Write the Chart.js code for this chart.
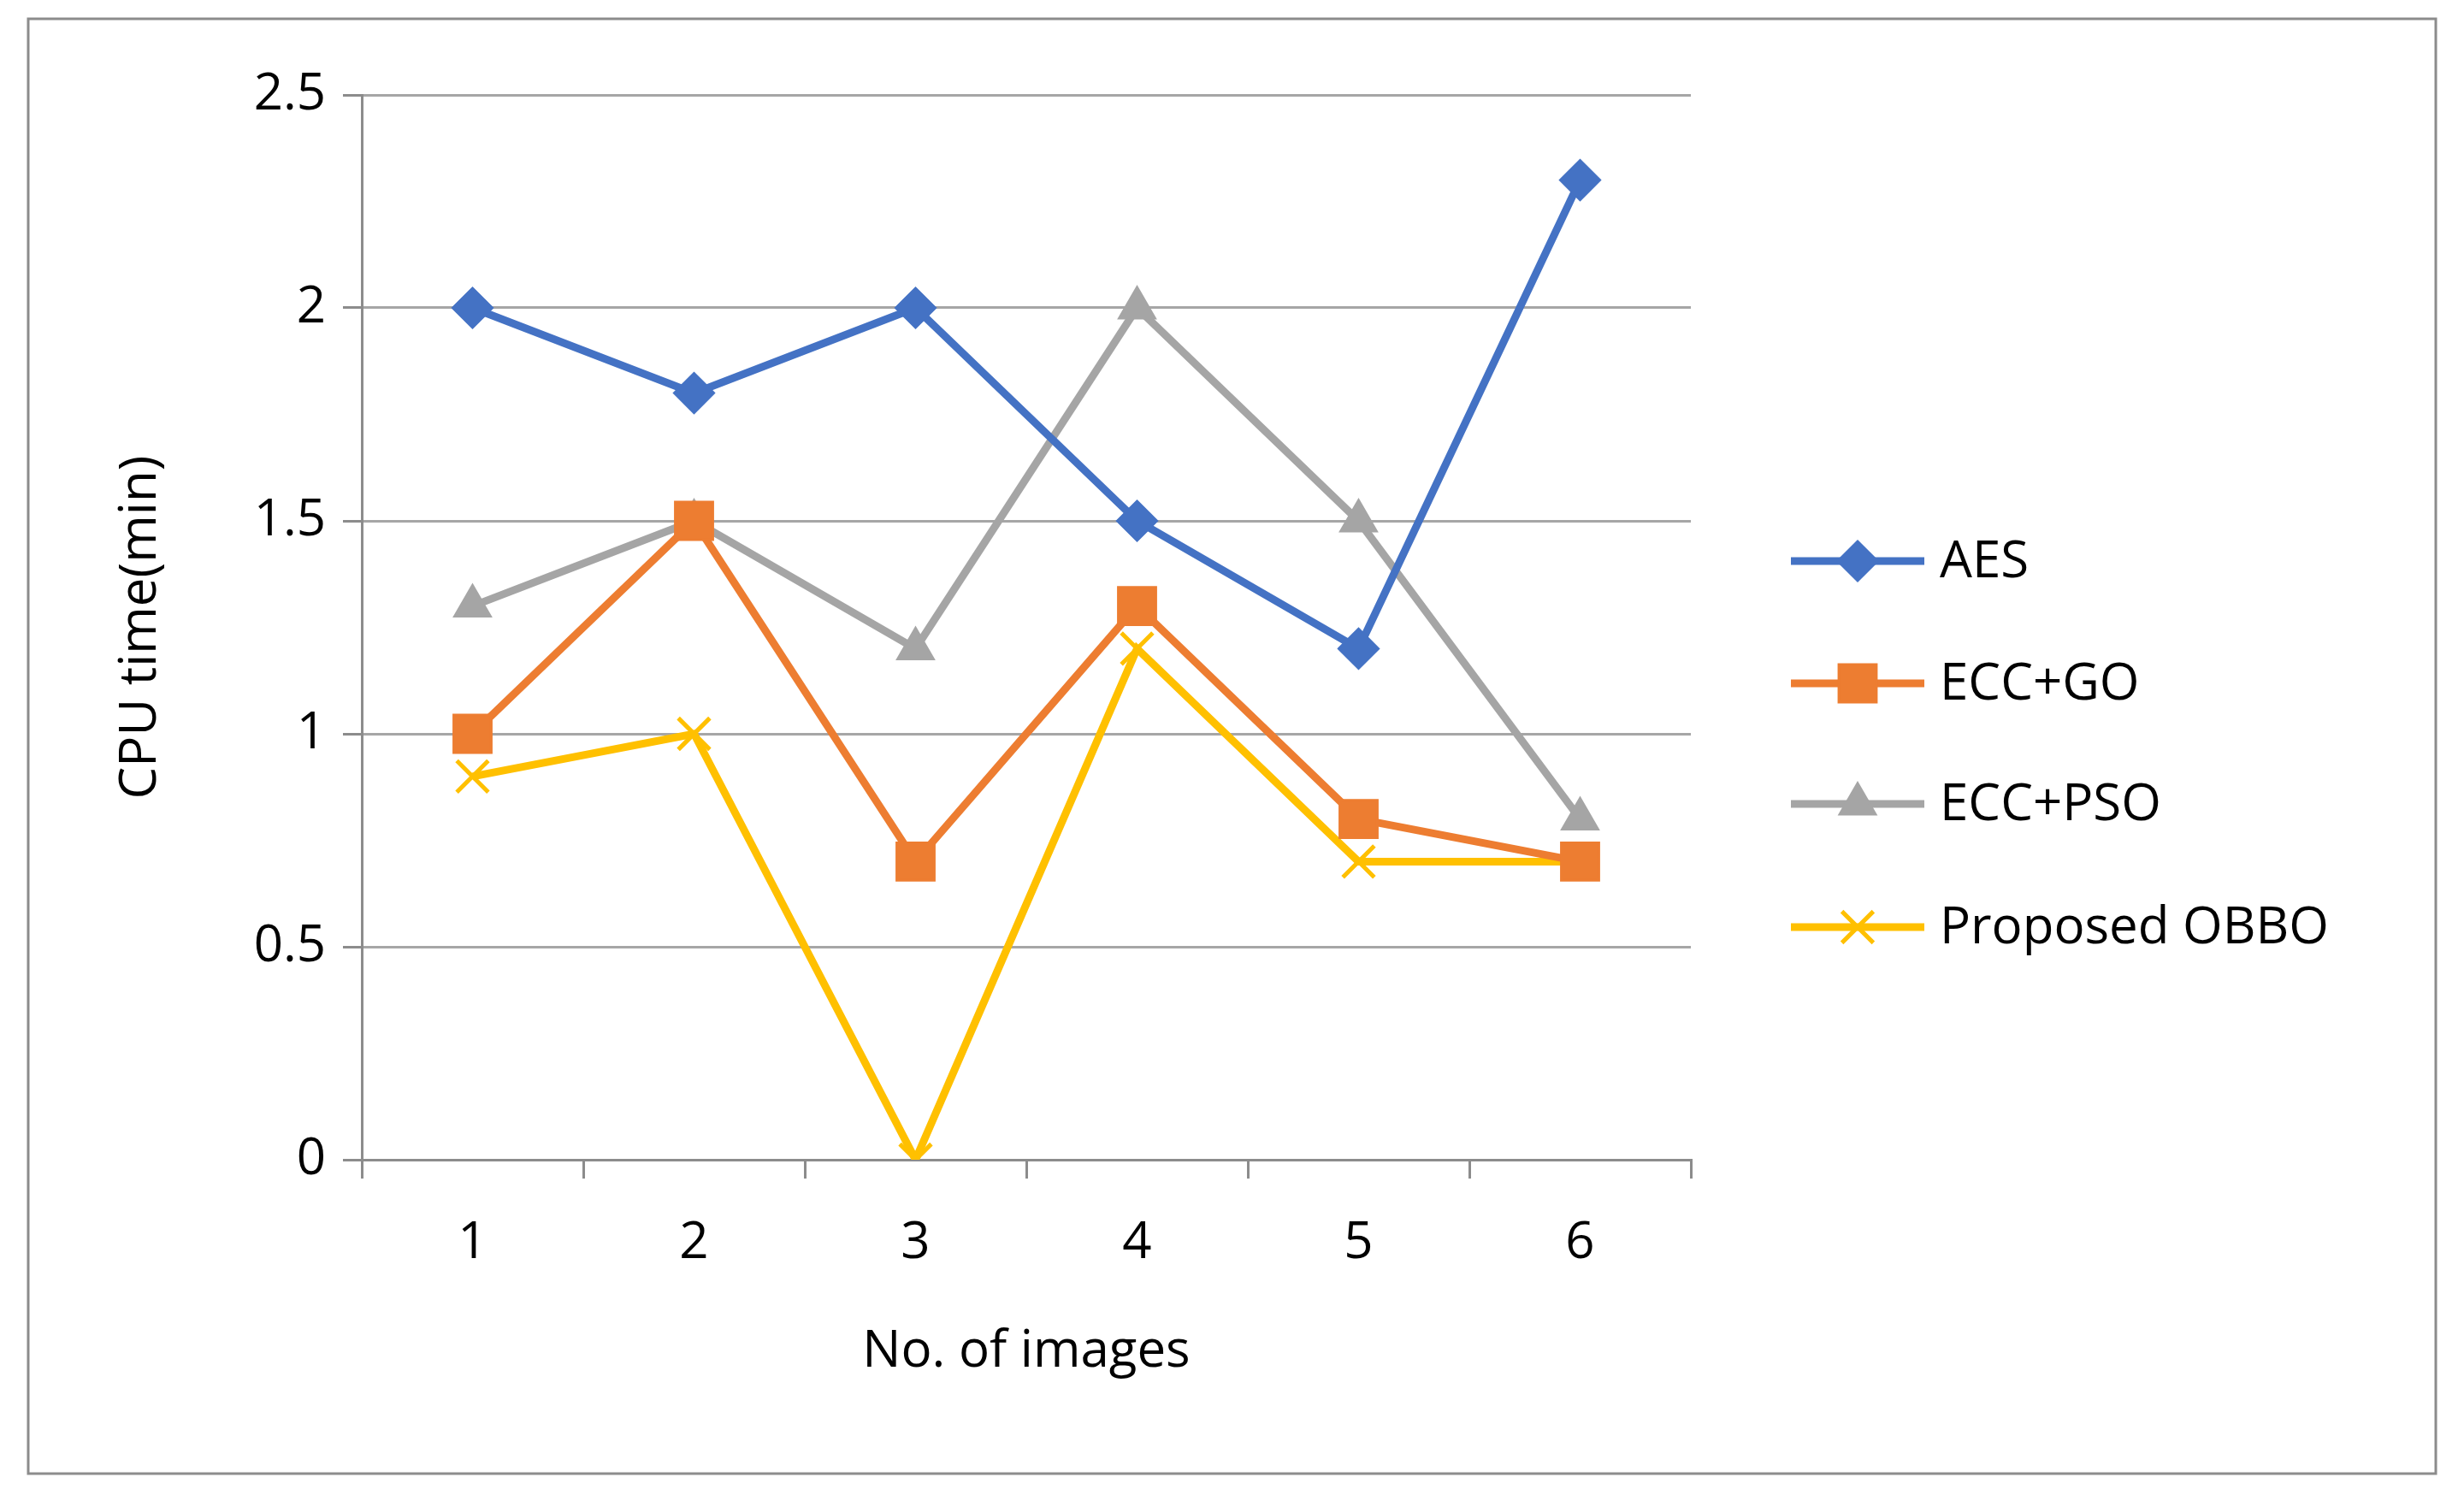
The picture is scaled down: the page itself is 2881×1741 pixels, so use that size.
<!DOCTYPE html>
<html><head><meta charset="utf-8">
<script src="https://cdn.jsdelivr.net/npm/chart.js@4"></script>
<style>html,body{margin:0;padding:0;background:#fff}#wrap{width:2881px;height:1741px}</style>
</head><body><div id="wrap"><canvas id="c" width="2881" height="1741"></canvas></div>
<script>
const categories = ['1','2','3','4','5','6'];
const aes = [2, 1.8, 2, 1.5, 1.2, 2.3];
const eccGo = [1, 1.5, 0.7, 1.3, 0.8, 0.7];
const eccPso = [1.3, 1.5, 1.2, 2, 1.5, 0.8];
const obbo = [0.9, 1, 0, 1.2, 0.7, 0.7];
const seriesNames = ['AES', 'ECC+GO', 'ECC+PSO', 'Proposed OBBO'];
const colors = ['#4472C4', '#ED7D31', '#A5A5A5', '#FFC000'];
const styles = ['rectRot', 'rect', 'triangle', 'crossRot'];
const radii = [23, 31, 24, 26];
const FONT = 'Open Sans, Noto Sans, sans-serif';

const bg = {id:'bg', beforeDraw(ch){const c=ch.ctx;c.save();c.fillStyle='#fff';c.fillRect(0,0,ch.width,ch.height);
 c.strokeStyle='#8c8c8c';c.lineWidth=3;c.strokeRect(33,22,2815,1701);c.restore();}};
const legend = {id:'lg', afterDraw(ch){const c=ch.ctx;const ys=[656,799,940,1084];
 c.save();
 ch.data.datasets.forEach((d,i)=>{const y=ys[i];
  c.strokeStyle=d.borderColor;c.lineWidth=9;c.beginPath();c.moveTo(2094,y);c.lineTo(2250,y);c.stroke();
  c.fillStyle=d.borderColor;c.strokeStyle=d.borderColor;c.lineWidth=d.pointBorderWidth;
  Chart.helpers.drawPoint(c,{pointStyle:d.pointStyle,radius:d.pointRadius,borderWidth:d.pointBorderWidth,rotation:0},2172,y);
  c.fillStyle='#000';c.font='60px '+FONT;c.textBaseline='middle';c.textAlign='left';c.fillText(d.label,2268,y+2);
 });c.restore();}};

const vals=[aes,eccGo,eccPso,obbo];
new Chart(document.getElementById('c'),{type:'line',
 data:{labels:categories,datasets:vals.map((v,i)=>({label:seriesNames[i],data:v,borderColor:colors[i],backgroundColor:colors[i],
  borderWidth:9,pointStyle:styles[i],pointRadius:radii[i],pointHoverRadius:radii[i],pointBorderWidth:i===3?5:3,tension:0}))},
 plugins:[bg,legend],
 options:{responsive:false,animation:false,devicePixelRatio:1,
  layout:{padding:{left:125,right:904,top:111,bottom:120}},
  plugins:{legend:{display:false},tooltip:{enabled:false}},
  scales:{
   x:{offset:true,grid:{offset:true,drawOnChartArea:false,drawTicks:true,tickLength:22,color:'#8c8c8c',lineWidth:3},
      border:{color:'#8c8c8c',width:3},
      ticks:{color:'#000',font:{family:FONT,size:60},padding:40},
      title:{display:true,text:'No. of images',color:'#000',font:{family:FONT,size:60},padding:{top:10}},
      afterFit(s){s.height=265;}},
   y:{min:0,max:2.5,ticks:{stepSize:0.5,color:'#000',font:{family:FONT,size:60},padding:20,callback:v=>String(v)},
      grid:{color:'#a6a6a6',lineWidth:3,drawTicks:true,tickLength:22,tickColor:'#8c8c8c'},
      border:{color:'#8c8c8c',width:3},
      title:{display:true,text:'CPU time(min)',color:'#000',font:{family:FONT,size:60},padding:{bottom:20}},
      afterFit(s){s.width=298;}}
  }}});
</script></body></html>
